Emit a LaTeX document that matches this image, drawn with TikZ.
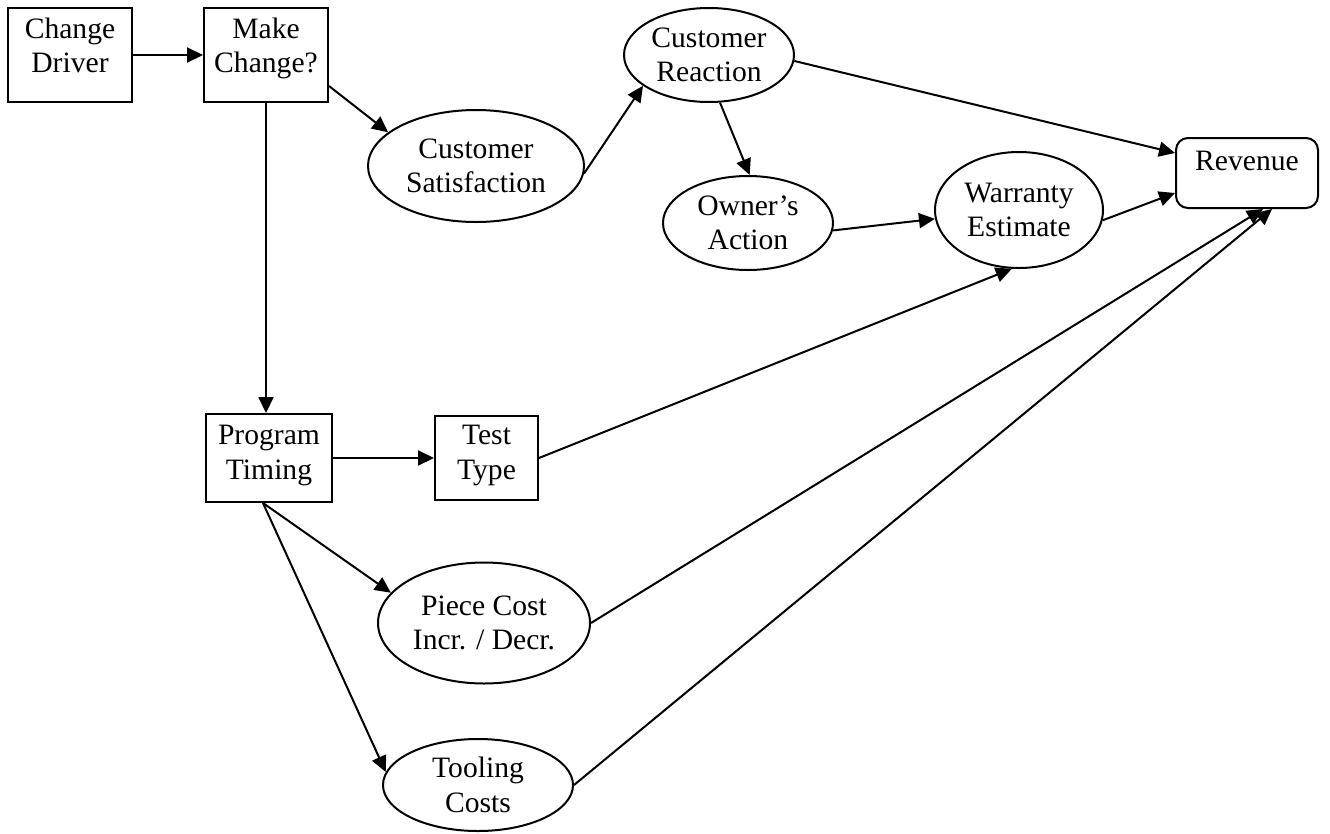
\documentclass[tikz,border=0pt]{standalone}
\usepackage{fontspec}
\setmainfont{Liberation Serif}
\usetikzlibrary{arrows.meta,shapes.geometric,calc}

% invisible strut that deepens the last text line, lifting the text in its box
\newcommand\lowpad[1]{\rule[-#1pt]{0pt}{0pt}}

\begin{document}
\begin{tikzpicture}[x=1pt,y=-1pt,
  every node/.style={font=\fontsize{29.6}{34.5}\selectfont, align=center, inner sep=0pt},
  boxnode/.style={draw, rectangle, line width=2pt},
  ovalnode/.style={draw, ellipse, line width=2pt},
  link/.style={line width=2pt, -{Triangle[length=16pt,width=15pt]}}]

\useasboundingbox (0,0) rectangle (1330,833);

% rectangular steps
\node[boxnode, minimum width=124, minimum height=94] (cd) at (70,55) {Change\\Driver\lowpad{20}};
\node[boxnode, minimum width=124, minimum height=94] (mc) at (266,55) {Make\\Change?\lowpad{20}};
\node[boxnode, minimum width=126, minimum height=88] (pt) at (269,458) {Program\\Timing\lowpad{11}};
\node[boxnode, minimum width=103, minimum height=84] (tt) at (486.5,458) {Test\\Type\lowpad{11}};
\node[boxnode, rounded corners=12pt, minimum width=142, minimum height=70] (rv) at (1247,173) {Revenue\lowpad{24}};

% oval factors
\node[ovalnode, minimum width=216, minimum height=112] (cs) at (476,166) {Customer\\Satisfaction};
\node[ovalnode, minimum width=170, minimum height=94] (cr) at (709,55) {Customer\\Reaction};
\node[ovalnode, minimum width=170, minimum height=94] (oa) at (748,223) {Owner’s\\Action};
\node[ovalnode, minimum width=168, minimum height=116] (we) at (1019,210) {Warranty\\Estimate};
\node[ovalnode, minimum width=212, minimum height=121] (pc) at (484,623) {Piece Cost\\Incr. / Decr.};
\node[ovalnode, minimum width=190, minimum height=92] (tc) at (478,785) {Tooling\\Costs};

% influence arrows
\coordinate (ptb) at ($(pt.south)+(-6,0)$);
\draw[link] (cd.east) -- (mc.west);
\draw[link] ($(mc.east)+(0,31)$) -- (cs.159);
\draw[link] (mc.south) -- (mc.south |- pt.north);
\draw[link] (cs.-4) -- (cr.205);
\draw[link] (cr.-4) -- ($(rv.west)+(0,-20)$);
\draw[link] (cr.-77) -- (oa.88);
\draw[link] (oa.-5) -- (we.186);
\draw[link] (we.-7) -- ($(rv.west)+(0,20)$);
\draw[link] (pt.east) -- (tt.west);
\draw[link] (ptb) -- (pc.162);
\draw[link] (ptb) -- (tc.172);
\draw[link] (tt.east) -- (we.263);
\draw[link] (pc.east) -- ($(rv.south)+(16,0)$);
\draw[link] (tc.east) -- ($(rv.south)+(25,0)$);
\end{tikzpicture}
\end{document}
